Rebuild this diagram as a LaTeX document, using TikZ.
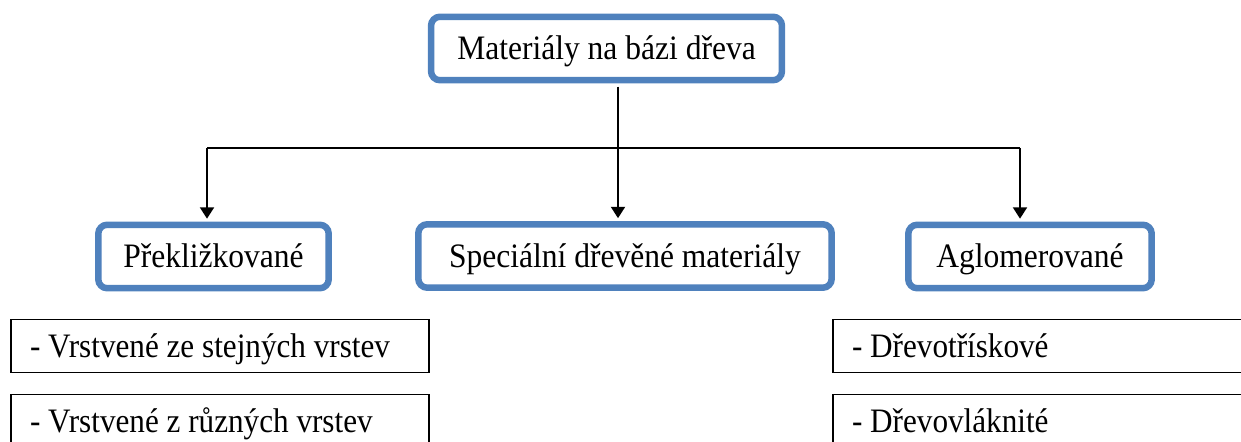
\documentclass[tikz,border=0pt]{standalone}
\usepackage{fontspec}
\setmainfont{Liberation Serif}[FakeStretch=0.92]
\newfontfamily\itemfont{Liberation Serif}[FakeStretch=0.91]
\usetikzlibrary{arrows.meta}
\definecolor{boxblue}{HTML}{4F81BD}

\begin{document}
\begin{tikzpicture}[x=0.02cm,y=-0.02cm,
  mainbox/.style={draw=boxblue,line width=3.7pt,rounded corners=0.18cm,fill=white,
    minimum height=1.27cm,inner sep=0pt,text height=12.9pt,text depth=0pt,
    font=\fontsize{19.5}{23}\selectfont},
  itembox/.style={draw,line width=1pt,minimum height=1.06cm,text width=7.6cm,
    inner xsep=0.38cm,inner ysep=0pt,align=flush left,text height=12.9pt,text depth=0pt,
    font=\itemfont\fontsize{19.5}{23}\selectfont},
  link/.style={line width=1.1pt},
  arr/.style={link,-{Triangle[length=6.5pt,width=8pt]},shorten >=1.6pt}]
\useasboundingbox (0,0) rectangle (1241,442);
\clip (0,0) rectangle (1241,442);
% boxes
\node[mainbox,minimum width=7.02cm] (wood) at (606.5,48.5) {Materiály na bázi dřeva};
\node[mainbox,minimum width=4.61cm] (plywood) at (213.5,256.5) {Překližkované};
\node[mainbox,minimum width=8.27cm] (special) at (625,256) {Speciální dřevěné materiály};
\node[mainbox,minimum width=4.87cm] (agglo) at (1030,256.5) {Aglomerované};
\node[itembox] (same) at (220,346) {- Vrstvené ze stejných vrstev};
\node[itembox] (mixed) at (220,421) {- Vrstvené z různých vrstev};
\node[itembox] (chip) at (1042,346) {- Dřevotřískové};
\node[itembox] (fibre) at (1042,421) {- Dřevovláknité};
% connectors
\coordinate (hub) at (618,148);
\coordinate (hubl) at (207,148);
\coordinate (hubr) at (1020,148);
\draw[link,shorten <=1.8pt] (wood.south -| hub) -- (hub);
\draw[link] (hubl) -- (hubr);
\draw[arr] (hubl) -- (hubl |- plywood.north);
\draw[arr] (hub) -- (hub |- special.north);
\draw[arr] (hubr) -- (hubr |- agglo.north);
\end{tikzpicture}
\end{document}
